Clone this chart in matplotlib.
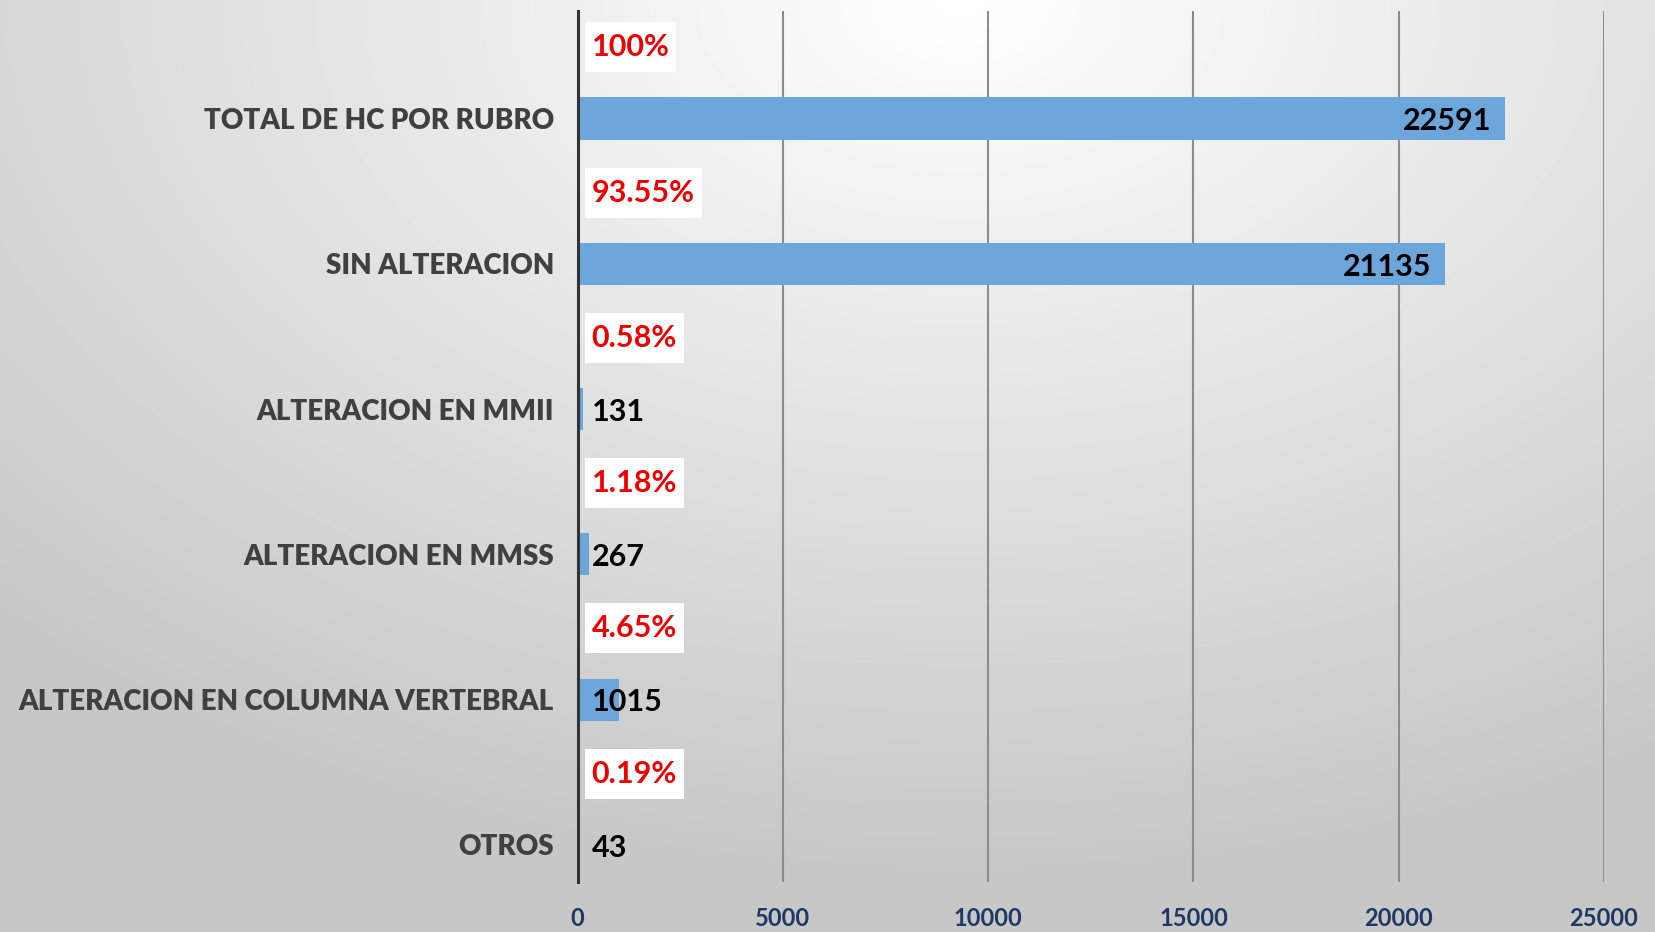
import numpy as np
import matplotlib.pyplot as plt
from matplotlib.patches import Rectangle

# Data (bottom to top)
categories = ['OTROS', 'ALTERACION EN COLUMNA VERTEBRAL', 'ALTERACION EN MMSS',
              'ALTERACION EN MMII', 'SIN ALTERACION', 'TOTAL DE HC POR RUBRO']
values = [43, 1015, 267, 131, 21135, 22591]
percents = ['0.19%', '4.65%', '1.18%', '0.58%', '93.55%', '100%']
xticks = [0, 5000, 10000, 15000, 20000, 25000]

W, H = 1656, 932
fig = plt.figure(figsize=(W / 100, H / 100), dpi=100)

# Radial grey background, light near the top middle
bg = fig.add_axes([0, 0, 1, 1], zorder=-10)
gx, gy = np.meshgrid(np.linspace(0, 1, 400), np.linspace(0, 1, 225))
r = np.sqrt(((gx - 0.58) / 1.0) ** 2 + ((gy - 0.0) / 1.15) ** 2)
shade = np.clip(1.0 - 0.27 * r, 0.78, 1.0)
bg.imshow(shade, cmap='gray', vmin=0, vmax=1, aspect='auto', extent=[0, 1, 0, 1],
          origin='upper', interpolation='bilinear')
bg.axis('off')

ax = fig.add_axes([577.7 / W, 1 - 882 / H, (1604 - 577.7) / W, (882 - 11) / H])
ax.patch.set_alpha(0)

pos = np.arange(len(categories))
ax.barh(pos, values, height=0.29, color='#6CA6DB', zorder=3)

ax.set_xlim(0, 25000)
ax.set_ylim(-0.255, 5.74)
ax.set_xticks(xticks)
ax.set_xticklabels([str(t) for t in xticks])
ax.set_yticks(pos)
ax.set_yticklabels(categories)

for lab in ax.get_yticklabels():
    lab.set_fontfamily('Lato')
    lab.set_fontweight('heavy')
    lab.set_fontsize(20)
    lab.set_color('#404040')
for lab in ax.get_xticklabels():
    lab.set_fontfamily('Lato')
    lab.set_fontweight('bold')
    lab.set_fontsize(17)
    lab.set_color('#1F3864')

ax.tick_params(axis='y', length=0, pad=17)
ax.tick_params(axis='x', length=0, pad=18)
ax.grid(axis='x', color='#8C8C8C', linewidth=1.5, zorder=1)
for s in ['top', 'right', 'bottom']:
    ax.spines[s].set_visible(False)
ax.spines['left'].set_color('#333333')
ax.spines['left'].set_linewidth(2.2)
ax.spines['left'].set_zorder(4)

# Value labels
for p, v in zip(pos, values):
    if v > 5000:
        ax.annotate(str(v), (v, p), xytext=(-10, -2), textcoords='offset points',
                    ha='right', va='center', fontsize=22, fontweight='bold',
                    family='Lato', color='black', zorder=5)
    else:
        ax.annotate(str(v), (0, p), xytext=(10, -2), textcoords='offset points',
                    ha='left', va='center', fontsize=22, fontweight='bold',
                    family='Lato', color='black', zorder=5)

# Percentage labels in white boxes, between bars
fig.canvas.draw()
renderer = fig.canvas.get_renderer()
for p, t in zip(pos, percents):
    txt = ax.annotate(t, (0, p + 0.49), xytext=(10, 0), textcoords='offset points',
                      ha='left', va='center', fontsize=22, fontweight='bold',
                      family='Lato', color='#EE0000', zorder=6)
    bb = txt.get_window_extent(renderer)
    yc = ax.transData.transform((0, p + 0.49))[1]
    x0 = bb.x0 - 7
    x1 = bb.x1 + 7
    inv = ax.transAxes.inverted()
    (ax0, ay0) = inv.transform((x0, yc - 25))
    (ax1, ay1) = inv.transform((x1, yc + 25))
    ax.add_patch(Rectangle((ax0, ay0), ax1 - ax0, ay1 - ay0, transform=ax.transAxes,
                           facecolor='white', edgecolor='none', zorder=5))

fig.savefig('out.png', dpi=100)
